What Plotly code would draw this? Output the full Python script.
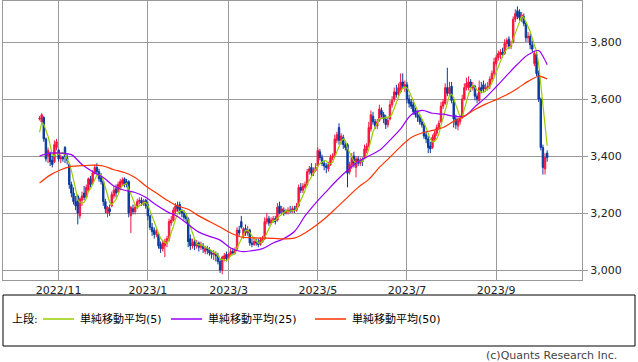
import plotly.graph_objects as go
import pandas as pd

# ---- data ----
opens = [3530,3520,3535,3460,3400,3410,3385,3380,3430,3420,3390,3395,3430,3395,3370,3300,3270,3240,3260,3190,
 3245,3270,3255,3280,3320,3305,3340,3360,3345,3325,3310,3240,3200,3215,3225,3260,3285,3275,3290,3305,
 3320,3310,3310,3190,3215,3205,3225,3240,3245,3235,3245,3230,3190,3150,3140,3125,3125,3090,3075,3085,
 3095,3110,3165,3175,3205,3225,3230,3205,3200,3190,3180,3110,3085,3100,3085,3095,3080,3085,3065,3075,
 3070,3060,3055,3055,3050,3030,3000,3040,3055,3045,3055,3065,3060,3075,3140,3170,3120,3145,3130,3140,
 3095,3090,3100,3095,3090,3100,3110,3170,3180,3165,3175,3180,3175,3225,3205,3210,3200,3205,3210,3205,
 3215,3210,3225,3290,3280,3290,3300,3345,3360,3340,3350,3365,3415,3395,3375,3365,3355,3370,3395,3400,
 3455,3500,3455,3465,3440,3440,3345,3370,3400,3360,3390,3375,3385,3395,3420,3435,3495,3540,3520,3505,
 3525,3560,3545,3530,3510,3530,3580,3600,3625,3620,3625,3660,3645,3650,3600,3590,3580,3560,3545,3535,
 3520,3510,3475,3460,3435,3430,3460,3480,3500,3520,3575,3585,3640,3620,3645,3590,3530,3505,3520,3535,
 3600,3640,3640,3660,3640,3645,3610,3595,3640,3650,3635,3640,3645,3670,3690,3725,3745,3755,3765,3760,
 3795,3810,3785,3800,3880,3910,3905,3885,3890,3865,3815,3820,3790,3725,3755,3690,3600,3430,3355,3410]
highs = [3540,3550,3540,3465,3430,3415,3400,3455,3460,3425,3405,3400,3435,3410,3375,3310,3290,3260,3265,3255,
 3275,3295,3300,3325,3330,3350,3370,3375,3355,3340,3315,3250,3225,3230,3275,3295,3300,3310,3320,3325,
 3325,3320,3315,3225,3230,3230,3250,3255,3255,3250,3250,3240,3195,3165,3150,3145,3130,3100,3105,3110,
 3120,3180,3190,3220,3235,3240,3240,3215,3210,3200,3185,3125,3110,3110,3105,3100,3100,3095,3085,3085,
 3080,3070,3070,3065,3060,3040,3050,3060,3065,3060,3075,3077,3080,3150,3155,3190,3150,3160,3155,3145,
 3110,3115,3110,3110,3115,3120,3185,3200,3190,3185,3190,3190,3235,3240,3225,3220,3215,3220,3225,3225,
 3225,3235,3300,3305,3305,3310,3355,3365,3375,3360,3375,3430,3425,3405,3385,3375,3380,3405,3410,3475,
 3485,3515,3480,3475,3450,3445,3380,3410,3415,3400,3400,3395,3395,3440,3445,3520,3560,3555,3530,3530,
 3580,3570,3555,3545,3535,3595,3610,3640,3650,3655,3690,3690,3665,3660,3615,3600,3595,3570,3555,3545,
 3530,3515,3485,3470,3450,3475,3490,3510,3525,3590,3600,3655,3710,3660,3660,3600,3545,3535,3545,3615,
 3655,3675,3680,3670,3660,3650,3620,3665,3660,3665,3655,3660,3680,3700,3745,3755,3770,3775,3780,3810,
 3815,3820,3805,3890,3915,3925,3915,3905,3900,3870,3835,3830,3805,3770,3765,3700,3605,3440,3410,3420]
lows = [3525,3515,3450,3380,3375,3365,3360,3375,3420,3380,3375,3380,3375,3370,3285,3255,3230,3210,3160,3180,
 3225,3245,3250,3275,3290,3300,3335,3335,3310,3300,3225,3200,3185,3190,3220,3250,3255,3270,3280,3295,
 3290,3290,3185,3130,3195,3195,3215,3230,3225,3225,3215,3175,3140,3120,3110,3115,3075,3060,3065,3045,
 3080,3100,3155,3170,3195,3205,3195,3185,3175,3165,3080,3070,3075,3070,3075,3065,3070,3060,3055,3055,
 3050,3040,3035,3030,3020,2990,2985,3030,3030,3035,3050,3055,3055,3070,3120,3145,3110,3120,3120,3085,
 3080,3085,3085,3080,3085,3095,3105,3160,3155,3160,3165,3160,3170,3195,3195,3190,3195,3195,3200,3200,
 3200,3205,3220,3270,3270,3285,3295,3335,3330,3330,3345,3360,3385,3365,3350,3340,3345,3365,3385,3395,
 3445,3440,3440,3425,3420,3290,3335,3355,3360,3325,3365,3365,3365,3390,3410,3430,3485,3510,3495,3495,
 3520,3535,3515,3495,3500,3525,3570,3590,3605,3610,3620,3635,3625,3585,3570,3565,3545,3535,3520,3510,
 3500,3460,3445,3410,3410,3425,3450,3470,3490,3515,3565,3580,3610,3610,3585,3500,3495,3490,3510,3530,
 3595,3630,3630,3625,3630,3595,3585,3590,3620,3625,3625,3630,3635,3660,3680,3715,3735,3740,3745,3755,
 3780,3775,3775,3795,3870,3880,3875,3870,3855,3800,3800,3775,3765,3715,3680,3590,3420,3335,3335,3380]
closes = [3532,3545,3460,3390,3420,3380,3370,3440,3450,3390,3395,3390,3400,3385,3300,3270,3240,3225,3200,3250,
 3260,3255,3290,3320,3300,3340,3360,3345,3320,3310,3240,3215,3220,3205,3265,3280,3270,3300,3310,3315,
 3300,3300,3200,3220,3205,3220,3240,3245,3235,3240,3225,3190,3150,3135,3125,3135,3085,3075,3095,3100,
 3110,3170,3175,3210,3225,3215,3205,3200,3185,3180,3100,3085,3095,3085,3095,3080,3090,3075,3075,3070,
 3060,3055,3060,3050,3030,3000,3045,3050,3040,3055,3065,3060,3070,3140,3130,3150,3145,3130,3140,3095,
 3090,3100,3095,3090,3105,3110,3170,3180,3165,3175,3180,3170,3220,3200,3215,3200,3205,3210,3205,3215,
 3210,3225,3290,3280,3295,3300,3345,3355,3340,3350,3360,3420,3395,3375,3365,3360,3370,3395,3400,3460,
 3475,3455,3470,3440,3430,3340,3370,3395,3375,3390,3375,3385,3380,3425,3435,3500,3545,3520,3505,3520,
 3565,3545,3530,3510,3525,3580,3595,3625,3615,3640,3660,3645,3650,3600,3585,3575,3555,3545,3535,3520,
 3510,3470,3460,3430,3425,3465,3480,3500,3515,3575,3590,3640,3620,3640,3595,3530,3510,3525,3530,3600,
 3640,3655,3660,3640,3645,3610,3600,3640,3630,3635,3640,3645,3670,3690,3730,3745,3760,3765,3755,3795,
 3805,3785,3790,3880,3900,3890,3885,3895,3865,3815,3820,3790,3775,3760,3690,3600,3430,3360,3395,3395]
# closes before the first visible candle (only used to seed the 5-day average)
prior_closes = [3380, 3485, 3500, 3518]

# 25- and 50-day averages (every 5th session)
ma_idx = [0,5,10,15,20,25,30,35,40,45,50,55,60,65,70,75,80,85,90,95,100,105,110,115,120,
          125,130,135,140,145,150,155,160,165,170,175,180,185,190,195,200,205,210,215,220,225,230,235,237,239]
ma25 = [3400,3410,3410,3405,3370,3345,3325,3295,3280,3272,3255,3228,3205,3188,3160,3133,3118,3105,3077,3065,
        3068,3075,3095,3110,3135,3190,3235,3275,3315,3350,3380,3400,3420,3456,3495,3545,3560,3550,3547,3540,
        3540,3573,3605,3643,3683,3722,3755,3770,3750,3720]
ma50 = [3305,3333,3352,3364,3366,3368,3365,3352,3342,3325,3295,3270,3245,3225,3213,3190,3170,3151,3130,3116,
        3113,3112,3111,3109,3112,3130,3155,3185,3220,3255,3290,3318,3360,3396,3433,3465,3481,3490,3500,3522,
        3540,3563,3582,3598,3615,3637,3662,3680,3677,3670]

tick_idx = [9, 51, 89, 131, 173, 215]
tick_text = ["2022/11", "2023/1", "2023/3", "2023/5", "2023/7", "2023/9"]
y_ticks = [3000, 3200, 3400, 3600, 3800]

legend_names = ["単純移動平均(5)", "単純移動平均(25)", "単純移動平均(50)"]
legend_colors = ["#99cc00", "#9900ff", "#ff3300"]

# ---- figure ----
x = list(range(len(closes)))
all_c = pd.Series(prior_closes + closes)
ma5 = all_c.rolling(5).mean().iloc[len(prior_closes):].tolist()

W, H = 638, 362
L, R, T, B = 3, 582, 1, 280  # plot area in pixels

fig = go.Figure()
fig.add_trace(go.Candlestick(
    x=x, open=opens, high=highs, low=lows, close=closes,
    increasing=dict(line=dict(color="#f5163f", width=1), fillcolor="#f5163f"),
    decreasing=dict(line=dict(color="#0a3a9c", width=1), fillcolor="#0a3a9c"),
    whiskerwidth=0, showlegend=False, hoverinfo="skip"))
fig.add_trace(go.Scatter(x=x, y=ma5, mode="lines", line=dict(color=legend_colors[0], width=1.2),
                         showlegend=False, hoverinfo="skip"))
fig.add_trace(go.Scatter(x=ma_idx, y=ma25, mode="lines", line=dict(color=legend_colors[1], width=1.2, shape="spline"),
                         showlegend=False, hoverinfo="skip"))
fig.add_trace(go.Scatter(x=ma_idx, y=ma50, mode="lines", line=dict(color=legend_colors[2], width=1.2, shape="spline"),
                         showlegend=False, hoverinfo="skip"))

def px_x(p):
    return (p - L) / (R - L)

def px_y(p):
    return (B - p) / (B - T)

shapes = [dict(type="rect", xref="paper", yref="paper", x0=px_x(3), x1=px_x(635), y0=px_y(295), y1=px_y(346),
               line=dict(color="#000000", width=1), fillcolor="rgba(0,0,0,0)")]
annotations = [dict(xref="paper", yref="paper", x=px_x(10), y=px_y(319), text="上段:", showarrow=False,
                    xanchor="left", yanchor="middle", font=dict(size=11, color="#000"))]
line_x = [43, 171, 315]
for lx, name, col in zip(line_x, legend_names, legend_colors):
    shapes.append(dict(type="line", xref="paper", yref="paper", x0=px_x(lx), x1=px_x(lx + 31),
                       y0=px_y(319), y1=px_y(319), line=dict(color=col, width=1.5)))
    annotations.append(dict(xref="paper", yref="paper", x=px_x(lx + 35), y=px_y(319), text=name,
                            showarrow=False, xanchor="left", yanchor="middle", font=dict(size=11, color="#000")))
annotations.append(dict(xref="paper", yref="paper", x=px_x(619), y=px_y(355), text="(c)Quants Research Inc.",
                        showarrow=False, xanchor="right", yanchor="middle", font=dict(size=11, color="#444")))

x0 = -17.2
x1 = 255.4
fig.update_layout(
    width=W, height=H,
    margin=dict(l=L, r=W - R, t=T, b=H - B),
    paper_bgcolor="white", plot_bgcolor="white",
    boxgap=0.05,
    font=dict(family="DejaVu Sans, Noto Sans CJK JP", size=11, color="#222"),
    xaxis=dict(range=[x0, x1], tickvals=tick_idx, ticktext=tick_text, showgrid=True, gridcolor="#999999",
               gridwidth=1, showline=True, linecolor="#999999", mirror=True, ticks="", zeroline=False,
               rangeslider=dict(visible=False), tickfont=dict(size=11, color="#222")),
    yaxis=dict(range=[2965, 3944], tickvals=y_ticks, tickformat=",d", side="right", showgrid=True,
               gridcolor="#999999", gridwidth=1, showline=True, linecolor="#999999", mirror=True,
               ticks="outside", ticklen=5, tickcolor="#999999", zeroline=False, tickfont=dict(size=11, color="#222")),
    shapes=shapes, annotations=annotations,
)
fig.write_html("out.html", config={"displayModeBar": False, "staticPlot": True},
               post_script="document.body.style.margin='0px';document.body.style.overflow='hidden';")
